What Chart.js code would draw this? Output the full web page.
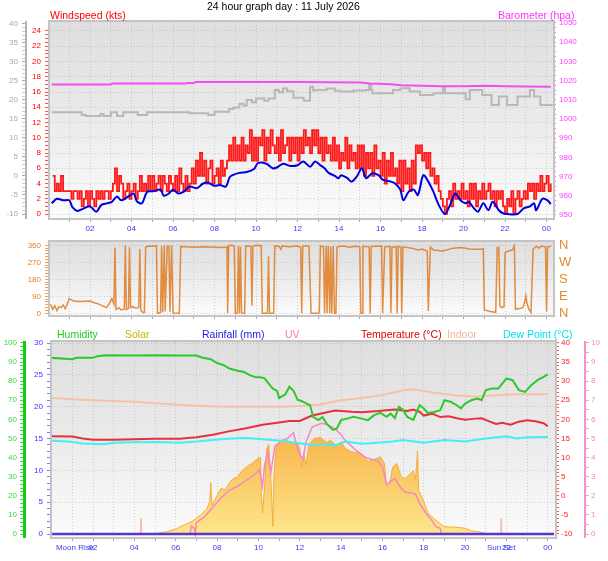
<!DOCTYPE html>
<html><head><meta charset="utf-8">
<script src="https://cdn.jsdelivr.net/npm/chart.js@4.4.1/dist/chart.umd.min.js"></script>
<style>
html,body{margin:0;padding:0;background:#fff;width:608px;height:561px;overflow:hidden;font-family:"Liberation Sans",Arial,sans-serif;}
.wrap{position:absolute;left:0;width:608px;}
.lbl{position:absolute;font-size:10.5px;white-space:nowrap;line-height:12px;z-index:5;}
</style></head><body>
<div class="wrap" style="top:0;height:236px"><canvas id="c1" width="608" height="236"></canvas></div>
<div class="wrap" style="top:236px;height:90px"><canvas id="c2" width="608" height="90"></canvas></div>
<div class="wrap" style="top:326px;height:235px"><canvas id="c3" width="608" height="235"></canvas></div>

<div class="lbl" style="left:207px;top:0px;color:#000;">24 hour graph day : 11 July 2026</div>
<div class="lbl" style="left:50px;top:9px;color:#ff0000">Windspeed (kts)</div>
<div class="lbl" style="left:498px;top:9px;color:#ff33ff">Barometer (hpa)</div>
<div class="lbl" style="left:57px;top:328px;color:#22cc22">Humidity</div>
<div class="lbl" style="left:125px;top:328px;color:#c8b400">Solar</div>
<div class="lbl" style="left:202px;top:328px;color:#2020dd">Rainfall (mm)</div>
<div class="lbl" style="left:285px;top:328px;color:#f080c0">UV</div>
<div class="lbl" style="left:361px;top:328px;color:#e00000">Temperature (°C)</div>
<div class="lbl" style="left:447px;top:328px;color:#f0b89c">Indoor</div>
<div class="lbl" style="left:503px;top:328px;color:#00e0f0">Dew Point (°C)</div>

<script>
// ---------------- DATA ----------------
// Wind gust (kts), sampled every 0.1 h starting at 0.2 h
const gustStart = 0.2, gustStep = 0.1;
const windGust = [
 5,3,4,3,5,3,3,3,
 3,2,3,3,2,3,1,2,3,1,
 3,2,1,3,2,3,2,3,3,2,
 3,4,6,3,5,4,2,3,4,2,
 3,4,2,3,5,3,4,3,5,3,
 5,3,4,5,3,5,4,3,5,4,
 3,5,3,6,4,3,5,3,4,6,
 4,7,5,8,5,7,4,6,7,4,
 5,6,4,7,5,6,7,9,7,10,
 7,9,7,10,7,9,8,11,7,10,
 7,10,9,11,7,10,8,11,9,8,
 10,7,11,8,9,10,7,10,8,10,
 7,10,8,11,9,10,8,11,9,11,
 8,10,7,10,8,9,7,10,7,9,
 6,8,7,10,6,9,7,8,6,9,
 6,9,5,8,6,8,5,9,6,7,
 5,8,4,7,5,8,5,6,4,7,
 3,7,4,6,3,7,4,9,8,9,
 7,8,6,8,5,6,4,5,3,2,
 1,0,2,3,1,4,2,3,2,4,
 2,3,1,4,2,4,1,3,2,4,
 2,3,4,2,3,1,3,2,3,1,
 0,2,1,3,0,2,3,1,2,3,
 2,4,3,4,2,4,3,5,3,4,
 5,3,4
];
// Average wind (kts)
const windAvgHours = [0.15,0.4,0.7,1.0,1.15,1.4,1.7,2.0,2.3,2.55,2.8,3.05,3.3,3.5,3.85,4.1,4.25,4.5,4.75,5.05,5.4,5.55,5.8,6.0,6.25,6.5,6.8,7.15,7.45,7.7,8.0,8.25,8.55,8.75,9.2,9.55,9.9,10.1,10.5,10.8,11.0,11.3,11.65,12.0,12.28,12.6,12.85,13.1,13.3,13.5,13.8,13.97,14.1,14.4,14.6,14.85,15.1,15.3,15.6,15.9,16.1,16.5,16.7,16.95,17.1,17.35,17.6,17.8,18.06,18.3,18.55,18.8,19.1,19.35,19.6,19.85,20.1,20.25,20.5,20.7,20.95,21.2,21.4,21.7,21.9,22.1,22.6,22.9,23.2,23.4,23.5,23.8,24.05,24.2];
const windAvg = [1.4,2.0,1.8,1.8,0.9,0.4,0.75,1.0,0.3,1.2,1.4,1.6,2.3,1.8,2.3,2.7,1.7,1.4,2.9,3.0,3.2,2.4,2.7,3.2,2.7,2.9,3.6,3.4,4.0,4.1,3.7,3.8,3.6,4.9,5.4,5.5,5.9,6.7,6.6,6.0,6.1,6.6,6.3,6.4,6.9,6.2,6.9,6.4,6.0,5.4,5.0,4.7,5.1,4.7,4.25,4.9,6.0,4.7,5.35,5.1,4.5,4.25,4.0,3.2,1.8,2.9,3.2,2.5,5.1,4.25,2.9,1.2,0.0,1.2,2.7,1.8,1.4,1.6,0.75,0.3,1.4,0.5,1.6,0.5,0.1,0.0,0.0,0.75,1.0,1.4,0.5,2.0,1.8,1.3];
// Barometer (hPa)
const baroHours = [0.15,3.0,3.1,6.6,6.7,7.0,7.1,12.0,13.5,15.0,15.5,16.5,17.0,18.0,19.0,20.0,21.0,22.0,23.0,24.2];
const baro = [1018.0,1018.0,1018.5,1018.5,1018.7,1018.7,1019.2,1019.2,1019.1,1019.0,1018.5,1018.1,1017.6,1017.3,1017.0,1017.0,1017.3,1017.0,1016.9,1016.8];
// Grey trace (outer left scale)
const greyHours = [0.15,1.6,1.8,2.5,2.65,3.0,3.3,3.6,4.3,4.75,6.8,7.7,8.0,8.7,8.9,9.2,9.4,9.55,9.8,10.0,10.4,10.6,10.9,11.1,11.3,11.5,11.8,12.3,12.6,12.75,12.85,13.4,13.8,14.05,14.7,15.3,15.45,15.55,15.6,16.6,16.95,17.4,17.9,18.55,19.0,19.1,20.1,20.3,20.9,21.35,21.7,22.1,22.6,23.2,23.4,23.7,24.3];
const grey = [16.75,16.05,15.8,16.3,15.8,16.75,15.8,16.75,16.05,16.75,16.5,16.05,16.9,17.6,18.0,19.0,18.5,20.0,19.4,20.4,19.8,20.4,22.6,22.0,23.0,22.3,20.6,19.8,23.5,22.5,22.6,23.0,22.4,22.2,22.5,22.6,24.0,22.6,21.75,22.6,23.1,22.2,21.3,21.75,23.4,21.75,20.2,22.6,21.3,18.7,20.9,18.7,20.9,22.6,20.9,18.7,18.7];
// Wind direction (degrees)
const dirHours = [0.1,0.2,0.3,0.4,0.5,0.6,0.7,0.8,0.9,1.0,1.2,1.5,2.0,2.2,2.4,2.6,2.8,2.95,3.05,3.15,3.2,3.25,3.4,3.5,3.65,3.7,3.75,3.85,3.9,3.95,4.05,4.2,4.35,4.4,4.45,4.55,4.62,4.68,4.8,5.0,5.2,5.25,5.4,5.45,5.5,5.58,5.62,5.72,5.8,5.85,5.93,6.0,6.3,6.37,6.6,7.0,7.5,8.0,8.5,8.6,8.63,8.68,8.8,8.95,9.0,9.1,9.15,9.2,9.25,9.3,9.45,9.5,9.75,9.8,9.85,10.0,10.25,10.3,10.55,10.6,10.65,10.85,10.9,11.1,11.2,11.25,11.6,12.0,12.15,12.2,12.25,12.55,12.65,12.9,13.05,13.1,13.25,13.3,13.38,13.42,13.48,13.55,13.6,13.65,13.72,13.78,13.85,13.9,14.2,14.5,14.8,15.0,15.05,15.12,15.15,15.45,15.5,15.55,16.05,16.1,16.2,16.45,16.5,16.55,16.75,16.8,16.85,16.98,17.02,17.08,17.5,17.8,18.0,18.25,18.3,18.4,18.55,19.0,19.5,19.9,20.3,20.7,20.95,21.0,21.3,21.55,21.62,21.7,21.75,21.85,21.95,22.0,22.15,22.35,22.45,22.5,22.7,22.85,22.95,23.0,23.05,23.15,23.25,23.35,23.5,23.65,23.75,23.95,24.0,24.05,24.2];
const dirDeg = [48,20,40,15,35,30,45,25,48,78,65,62,65,56,50,39,30,55,78,48,348,20,30,18,22,360,20,25,350,30,35,28,30,339,15,4,4,350,356,355,358,0,5,358,5,360,10,356,355,8,360,2,0,354,352,350,352,350,348,352,0,358,360,356,0,0,356,0,352,2,0,356,355,40,355,360,358,0,0,300,0,0,356,355,339,356,352,356,350,0,356,356,0,0,2,356,352,0,358,0,356,0,354,0,356,0,0,352,356,350,355,352,0,0,355,352,0,354,356,0,352,355,0,350,352,0,355,350,0,352,345,335,340,330,12,350,335,330,345,348,340,339,340,18,10,5,347,350,39,30,35,321,330,335,356,21,25,30,60,92,56,20,4,339,355,345,356,352,10,350,356];
const compassLabels = ['N','E','S','W','N'];
// Bottom panel
const humHours = [0,1.0,1.2,2.0,2.2,2.6,4.0,5.0,6.0,7.0,7.3,7.7,8.0,8.3,8.6,9.0,9.3,9.6,9.9,10.1,10.3,10.5,10.7,10.9,11.0,11.3,11.5,11.7,11.9,12.0,12.2,12.5,12.65,12.9,13.1,13.3,13.6,13.8,14.0,14.3,14.6,15.0,15.3,15.6,15.9,16.2,16.4,16.6,16.8,17.0,17.2,17.5,17.8,18.0,18.2,18.5,18.8,19.0,19.3,19.6,19.8,20.0,20.3,20.6,20.8,21.0,21.3,21.6,21.8,22.0,22.3,22.6,22.9,23.2,23.5,23.8,24.0];
const humidity = [92.2,91.5,92.2,92.2,93.0,93.6,93.4,93.6,93.4,93.4,92.3,91.5,89.5,88.5,86.6,85.5,84.8,83.0,82.0,82.0,81.5,78.7,76.1,75.0,71.2,73.0,77.1,75.0,70.2,70.0,69.0,67.4,61.3,59.6,61.3,57.8,54.5,55.2,59.7,60.4,61.3,60.4,59.6,62.2,63.4,61.3,63.0,60.7,66.5,64.9,61.3,59.7,67.5,65.7,63.4,63.9,64.8,70.0,69.2,67.4,65.7,68.3,70.0,70.9,70.0,75.3,76.1,76.1,78.7,81.4,80.5,75.3,74.4,77.9,80.5,82.2,83.6];
const tempHours = [0,1.0,1.5,2.0,3.0,4.0,5.0,5.5,6.2,7.0,7.8,8.5,9.4,10.2,11.0,11.5,12.0,12.6,13.0,13.7,14.5,15.0,15.8,16.6,17.2,17.5,17.8,18.0,18.4,18.8,19.2,19.6,20.0,20.5,20.8,21.2,21.5,21.8,22.2,22.6,23.0,23.4,23.8,24.0];
const temperature = [15.6,15.5,15.0,14.7,14.7,14.8,14.9,14.9,14.9,15.3,16.0,16.8,17.7,18.6,19.2,19.6,19.6,21.0,21.5,22.3,22.0,21.9,22.2,22.6,22.2,22.6,22.0,21.0,21.5,20.6,20.8,20.3,19.9,20.2,20.3,19.4,18.8,19.1,18.6,19.4,19.8,19.5,19.0,18.2];
const indoorHours = [0,1,2,3,4,5,6,7,8,9,10,11,12,13,14,15,16,17,17.5,18.5,19.5,20.5,21.5,22.5,24];
const indoor = [25.6,25.3,25.0,24.8,24.6,24.2,23.9,23.6,23.4,23.3,23.3,23.3,23.5,23.9,25.0,25.6,26.4,27.6,27.9,27.0,26.3,25.9,26.3,26.6,26.6];
const dewHours = [0,0.8,1.5,2.5,3,4,5,6.2,7,7.8,8.5,9.4,10.2,11.0,11.8,12.6,13.2,13.7,14.2,15,15.8,16.5,17,18,19,20,21,22,22.5,23,24];
const dewPoint = [14.4,14.2,13.7,13.5,13.9,14.0,14.1,13.9,14.2,14.6,14.9,15.1,14.8,14.5,13.9,13.3,13.5,13.2,14.2,13.6,13.9,14.2,14.6,13.9,14.6,14.2,15.0,15.6,15.0,15.3,15.4];
const uvHours = [6.7,6.75,6.9,6.95,7.0,7.4,7.8,8.2,8.6,9.0,9.4,9.8,10.05,10.2,10.3,10.45,10.6,10.8,11.15,11.4,11.7,11.9,12.15,12.3,12.6,13.05,13.4,13.7,14.0,14.2,14.7,15.2,15.8,16.0,16.2,16.6,16.9,17.1,17.6,17.8,18.1,18.4,18.6,18.8,18.85];
const uv = [0,0.4,0.3,0.0,0.6,0.9,1.4,1.9,2.3,2.5,2.8,3.1,3.35,2.5,3.6,4.3,3.2,4.6,4.9,5.0,5.3,4.4,3.9,4.8,5.6,5.8,5.7,5.5,5.2,4.9,4.4,4.0,3.8,3.5,2.6,2.9,2.4,2.2,2.1,1.6,1.1,0.7,0.37,0.3,0];
const solarHours = [4.9,5.5,6.0,6.2,6.5,6.85,7.2,7.5,7.65,7.7,7.75,8.0,8.2,8.4,8.6,8.8,9.0,9.2,9.4,9.7,10.0,10.1,10.15,10.2,10.3,10.4,10.5,10.6,10.7,10.75,10.85,11.0,11.3,11.6,11.9,12.0,12.1,12.2,12.3,12.45,12.7,13.0,13.3,13.5,13.8,14.0,14.2,14.5,15.0,15.3,15.6,15.9,16.1,16.2,16.35,16.5,16.7,16.9,17.1,17.3,17.5,17.6,17.7,17.75,18.0,18.2,18.5,18.8,19.0,19.5,20.0,20.3,20.7,21.0,21.2];
const solar = [0,10,25,37,50,70,100,130,170,270,150,200,240,230,270,290,300,330,350,370,398,400,200,110,250,440,470,300,40,300,450,483,491,480,470,450,350,420,360,470,500,505,480,490,460,480,450,430,420,380,390,404,370,250,260,350,370,300,290,310,330,280,435,230,170,110,80,55,38,36,30,17,10,3,0];
const rainHours = [0.02,24.3];
const rainfall = [0,0];
const sunEventHours = [4.32,21.75];
const sunEventLevel = 2.45;
const moonRiseHour = 1.13, sunSetHour = 21.75;

// ---------------- HELPERS ----------------
const F = '"Liberation Sans", Arial, sans-serif';
const small = {size:8, family:F};
const gridCol = 'rgba(165,165,165,0.45)';
function pts(xs, ys){ return xs.map((x,i)=>({x:x, y:ys[i]})); }
function fixTicks(list){ return s => { s.ticks = list.map(v=>({value:v})); }; }
function fixW(w){ return s => { s.width = w; s.paddingTop = 0; s.paddingBottom = 0; }; }
function range(a,b,step){ const r=[]; for(let v=a; v<=b+1e-9; v+=step) r.push(Math.round(v*1000)/1000); return r; }
function hourLabel(v){ const h = Math.round(v)%24; return (h<10?'0':'')+h; }
const hourTicks = range(1,24,1);
const isMajor = (v,m) => Math.abs(v/m - Math.round(v/m)) < 1e-6;

const bgPlugin = {
  id:'bg',
  beforeDraw(chart){
    const {ctx, chartArea:a, width, height} = chart;
    ctx.save();
    ctx.fillStyle='#fff'; ctx.fillRect(0,0,width,height);
    const g = ctx.createLinearGradient(0,a.top,0,a.bottom);
    g.addColorStop(0,'#dfdfdf'); g.addColorStop(0.4,'#e8e8e8'); g.addColorStop(1,'#fbfbfb');
    ctx.fillStyle=g; ctx.fillRect(a.left,a.top,a.right-a.left,a.bottom-a.top);
    ctx.restore();
  },
  afterDatasetsDraw(chart){
    const {ctx, chartArea:a} = chart;
    ctx.save(); ctx.strokeStyle='#c4c4c4'; ctx.lineWidth=2;
    ctx.strokeRect(a.left-1,a.top-1,a.right-a.left+2,a.bottom-a.top+2);
    ctx.restore();
  }
};
Chart.defaults.animation = false;
Chart.defaults.font.family = F;
const commonPlugins = {legend:{display:false}, tooltip:{enabled:false}, title:{display:false}};
const line = (o) => Object.assign({pointRadius:0, borderWidth:2, fill:false, tension:0}, o);

function xAxis(min,max,height,withLabels,extraTicks,labelFn){
  const tl = hourTicks.concat(extraTicks||[]).sort((a,b)=>a-b);
  return {
    type:'linear', position:'bottom', min:min, max:max,
    afterBuildTicks: fixTicks(tl), afterFit: s=>{ s.height = height; s.paddingLeft = 0; s.paddingRight = 0; },
    ticks:{ display:withLabels, autoSkip:false, maxRotation:0, minRotation:0, color:'#3a3af0', font:small, padding:2,
      callback: labelFn || (v => isMajor(v,2) ? hourLabel(v) : '') },
    grid:{ color: c => (c.tick && isMajor(c.tick.value,1)) ? gridCol : 'transparent', tickLength:4,
      tickColor: c => (c.tick && isMajor(c.tick.value,1)) ? '#a0a0d8' : 'transparent' },
    border:{ display:false, dash:[1,2] }
  };
}

// ---------------- TOP CHART ----------------
const gustHours = windGust.map((_,i)=> Math.round((gustStart + i*gustStep)*100)/100);
new Chart(document.getElementById('c1'), {
  type:'line',
  data:{ datasets:[
    line({data:pts(windAvgHours, windAvg), borderColor:'#0000dd', yAxisID:'wind', tension:0.3, borderWidth:2}),
    line({data:pts(gustHours, windGust), borderColor:'rgba(255,0,0,0.9)', yAxisID:'wind', stepped:true, borderWidth:1.8}),
    line({data:pts(baroHours, baro), borderColor:'#f050f0', yAxisID:'baro', borderWidth:2}),
    line({data:pts(greyHours, grey), borderColor:'#b8b8b8', yAxisID:'grey', stepped:true, borderWidth:2})
  ]},
  options:{
    responsive:false, animation:false,
    layout:{ padding:{top:22,left:0,right:0,bottom:0} },
    plugins: commonPlugins,
    scales:{
      x: xAxis(0.07, 24.31, 18, true),
      grey:{ position:'left', weight:1, min:-11.05, max:40.5,
        afterBuildTicks: fixTicks(range(-10,40,1)), afterFit: fixW(26),
        ticks:{ color:'#a8a8a8', font:small, padding:4, autoSkip:false, callback: v => isMajor(v,5) ? v : '' },
        grid:{ drawOnChartArea:false, tickLength:4, tickColor: c => (c.tick && isMajor(c.tick.value,5)) ? '#a8a8a8' : '#cfcfcf' },
        border:{ display:true, color:'#b4b4b4', width:2 } },
      wind:{ position:'left', weight:0, min:-0.52, max:25.18,
        afterBuildTicks: fixTicks(range(0,24,0.5)), afterFit: fixW(24),
        ticks:{ color:'#ff0000', font:small, padding:4, autoSkip:false, callback: v => isMajor(v,2) ? v : '' },
        grid:{ color: c => (c.tick && isMajor(c.tick.value,2)) ? gridCol : 'transparent', tickLength:5, tickColor:'#ff5050' },
        border:{ display:false, dash:[1,2] } },
      baro:{ position:'right', min:948.4, max:1050.5,
        afterBuildTicks: fixTicks(range(950,1050,2.5)), afterFit: fixW(55),
        ticks:{ color:'#ff40ff', font:small, padding:3, autoSkip:false, callback: v => isMajor(v,10) ? v : '' },
        grid:{ drawOnChartArea:false, tickLength:3, tickColor:'#ff70ff' },
        border:{ display:false } }
    }
  },
  plugins:[bgPlugin]
});

// ---------------- MIDDLE CHART ----------------
new Chart(document.getElementById('c2'), {
  type:'line',
  data:{ datasets:[
    line({data:pts(dirHours, dirDeg), borderColor:'rgba(222,122,32,0.85)', yAxisID:'dir', borderWidth:1.5})
  ]},
  options:{
    responsive:false, animation:false,
    layout:{ padding:{top:6,left:0,right:0,bottom:0} },
    plugins: commonPlugins,
    scales:{
      x: xAxis(0.07, 24.31, 11, false),
      dir:{ position:'left', min:-9, max:377.5,
        afterBuildTicks: fixTicks(range(0,360,15)), afterFit: fixW(50),
        ticks:{ color:'#e08030', font:small, padding:4, autoSkip:false, callback: v => isMajor(v,90) ? v : '' },
        grid:{ color: c => (c.tick && isMajor(c.tick.value,90)) ? gridCol : 'transparent', tickLength:5, tickColor:'#f0a060' },
        border:{ display:false, dash:[1,2] } },
      compass:{ position:'right', min:-9, max:377.5,
        afterBuildTicks: fixTicks([0,90,180,270,360]), afterFit: fixW(55),
        ticks:{ color:'#e08a30', font:{size:13, family:F}, padding:6, autoSkip:false,
          callback: v => compassLabels[Math.round(v/90)] },
        grid:{ drawOnChartArea:false, drawTicks:false },
        border:{ display:false } }
    }
  },
  plugins:[bgPlugin]
});

// ---------------- BOTTOM CHART ----------------
function sunMarkers(){
  const out = [];
  sunEventHours.forEach((h,i)=>{
    if(i>0) out.push({x:h-0.01, y:null});
    out.push({x:h, y:0}); out.push({x:h, y:sunEventLevel});
  });
  return out;
}
new Chart(document.getElementById('c3'), {
  type:'line',
  data:{ datasets:[
    line({data:pts(humHours, humidity), borderColor:'#2ec82e', yAxisID:'hum'}),
    line({data:pts(indoorHours, indoor), borderColor:'#f5c2a8', yAxisID:'temp'}),
    line({data:pts(tempHours, temperature), borderColor:'#e6303c', yAxisID:'temp'}),
    line({data:pts(dewHours, dewPoint), borderColor:'#44eef6', yAxisID:'temp'}),
    line({data:pts(rainHours, rainfall), borderColor:'#5a34d0', yAxisID:'rain', borderWidth:2.5}),
    line({data:sunMarkers(), borderColor:'#f2c0a6', yAxisID:'rain', spanGaps:false, borderWidth:2}),
    line({data:pts(uvHours, uv), borderColor:'#f388c4', yAxisID:'uv', borderWidth:1.5}),
    line({data:pts(solarHours, solar), borderColor:'#f5ae3c', borderWidth:1, yAxisID:'solar', fill:'origin',
      backgroundColor: c => {
        const ch = c.chart, a = ch.chartArea; if(!a) return '#f8c860';
        const g = ch.ctx.createLinearGradient(0, a.bottom, 0, a.top + (a.bottom-a.top)*0.45);
        g.addColorStop(0,'#fde88e'); g.addColorStop(1,'#f7b248'); return g;
      }})
  ]},
  options:{
    responsive:false, animation:false,
    layout:{ padding:{top:16,left:0,right:0,bottom:0} },
    plugins: commonPlugins,
    scales:{
      x: xAxis(0.015, 24.35, 24, true, [moonRiseHour, sunSetHour], v => {
        if (Math.abs(v-moonRiseHour)<1e-6) return 'Moon Rise';
        if (Math.abs(v-sunSetHour)<1e-6) return 'Sun Set';
        return isMajor(v,2) ? hourLabel(v) : '';
      }),
      hum:{ position:'left', weight:1, min:-1.57, max:100.5,
        afterBuildTicks: fixTicks(range(0,100,2)), afterFit: fixW(24),
        ticks:{ color:'#33dd33', font:small, padding:3, autoSkip:false, callback: v => isMajor(v,10) ? v : '' },
        grid:{ drawOnChartArea:false, tickLength:4, tickColor:'#44dd44' },
        border:{ display:true, color:'#11cc11', width:3 } },
      rain:{ position:'left', weight:0, min:-0.47, max:30.16,
        afterBuildTicks: fixTicks(range(0,30,1)), afterFit: fixW(28),
        ticks:{ color:'#3434ff', font:small, padding:4, autoSkip:false, callback: v => isMajor(v,5) ? v : '' },
        grid:{ color: c => (c.tick && isMajor(c.tick.value,5)) ? gridCol : 'transparent', tickLength:5, tickColor:'#8080f0' },
        border:{ display:false, dash:[1,2] } },
      temp:{ position:'right', weight:0, min:-10.79, max:40.26,
        afterBuildTicks: fixTicks(range(-10,40,1)), afterFit: fixW(30),
        ticks:{ color:'#ff2020', font:small, padding:2, autoSkip:false, callback: v => isMajor(v,5) ? v : '' },
        grid:{ drawOnChartArea:false, tickLength:4, tickColor:'#ff5050' },
        border:{ display:false } },
      uv:{ position:'right', weight:1, min:-0.157, max:10.05,
        afterBuildTicks: fixTicks(range(0,10,0.5)), afterFit: fixW(23),
        ticks:{ color:'#f484c4', font:small, padding:2, autoSkip:false, callback: v => isMajor(v,1) ? v : '' },
        grid:{ drawOnChartArea:false, tickLength:4, tickColor:'#f8a0d0' },
        border:{ display:true, color:'#f590c8', width:2 } },
      solar:{ display:false, min:-15.7, max:1005 }
    }
  },
  plugins:[bgPlugin]
});
</script>
</body></html>
